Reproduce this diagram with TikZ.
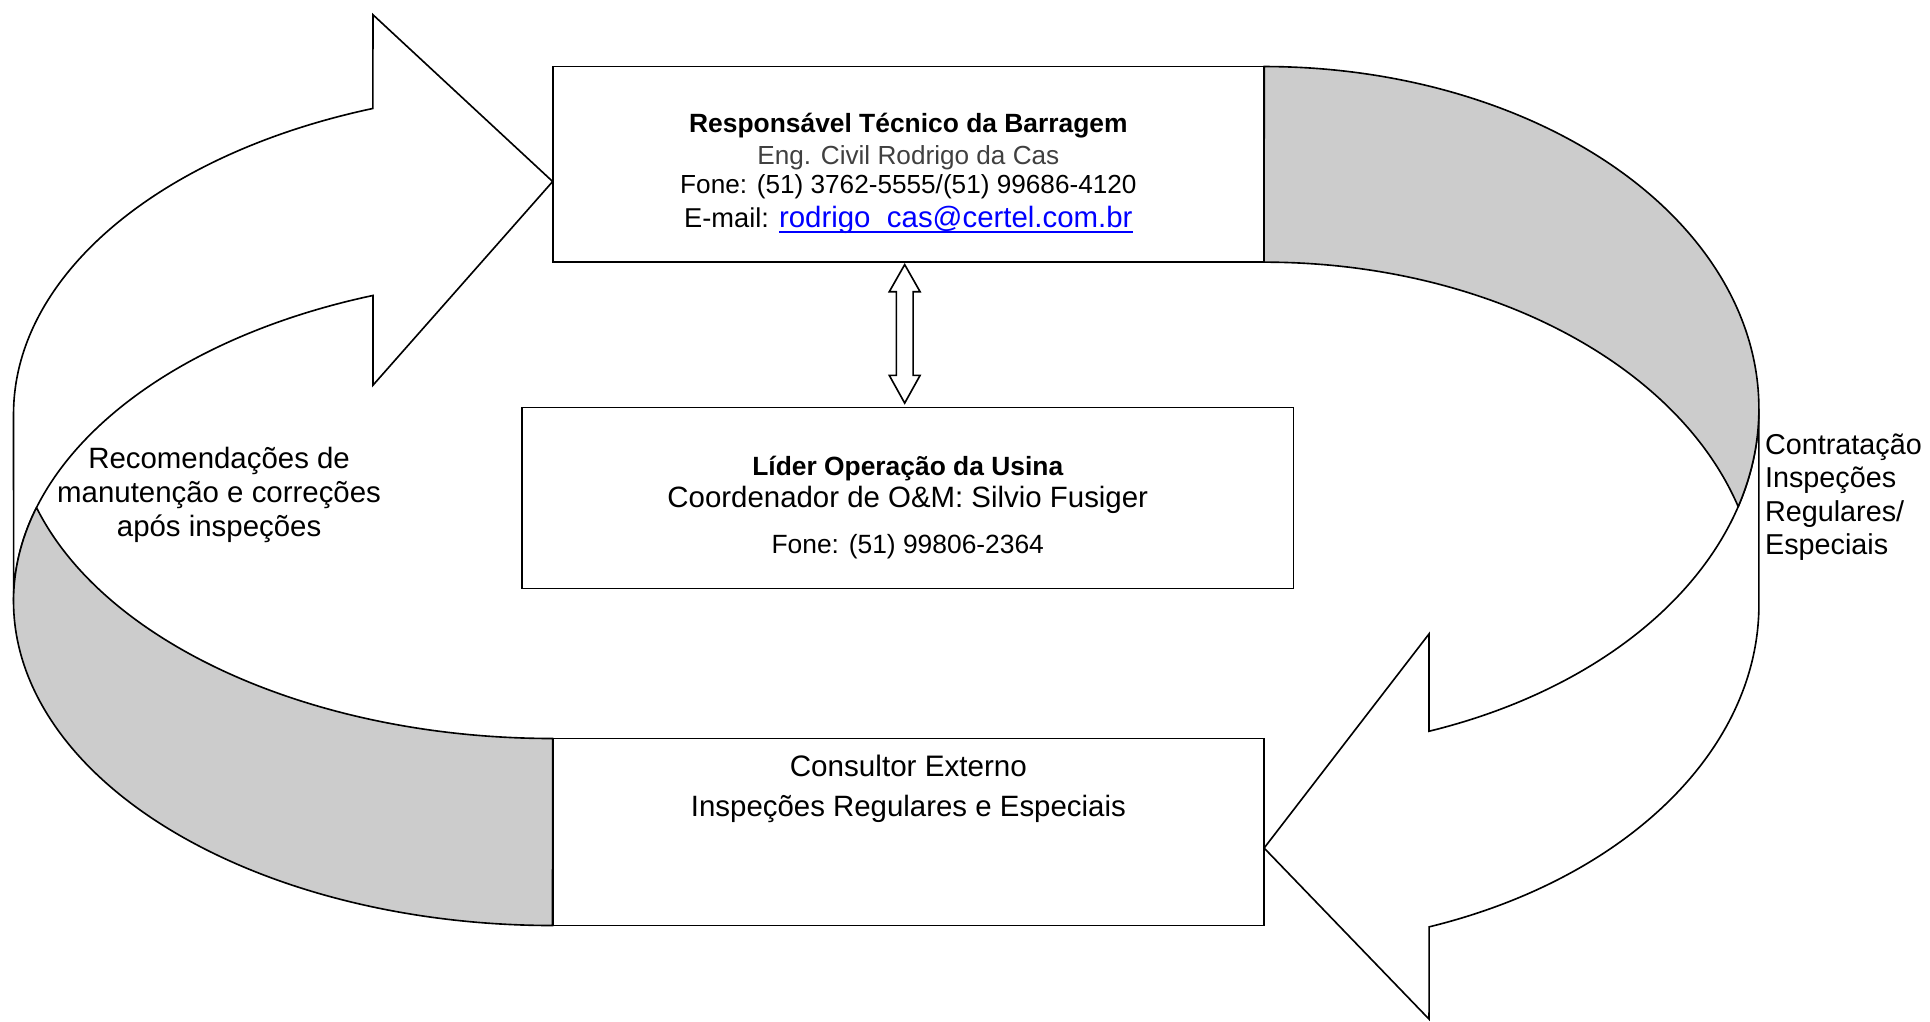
\documentclass[tikz,border=0pt]{standalone}
\usepackage{fontspec}
\setmainfont{Liberation Sans}
\usetikzlibrary{calc}
\definecolor{ribbongray}{RGB}{204,204,204}
\definecolor{linkblue}{RGB}{0,0,255}
\definecolor{softblack}{RGB}{64,64,64}
\newcommand\wordul[1]{\setbox0\hbox{#1}\rlap{\rule[-2.8pt]{\wd0}{0.85pt}}\box0}
\begin{document}
\begin{tikzpicture}[x=0.02cm,y=0.02cm,
  shapeline/.style={draw=black, line width=0.75pt, line join=miter},
  bodyshape/.style={shapeline, fill=white},
  ribbonshape/.style={shapeline, fill=ribbongray},
  leftell/.style={x radius=8.76cm, y radius=5.27cm},
  rightell/.style={x radius=8.04cm, y radius=5.56cm},
  box/.style={draw=black, line width=0.75pt, fill=white, inner sep=0pt, outer sep=0pt},
  txt/.style={inner sep=0pt, outer sep=0pt, anchor=base},
  ltxt/.style={inner sep=0pt, outer sep=0pt, anchor=base west},
  fa/.style={font=\fontsize{12.1}{14}\selectfont},
  fb/.style={font=\fontsize{12.2}{14}\selectfont\bfseries},
  fc/.style={font=\fontsize{13.3}{15}\selectfont},
  fd/.style={font=\fontsize{13.6}{15}\selectfont},
  blockarrow/.style={draw=black, line width=0.75pt, fill=white, line join=miter}
]
\useasboundingbox (0,0) rectangle (1568,830);

% left curved arrow (body)
\draw[bodyshape] (11,493.5) arc[leftell, start angle=180, end angle=109.47]
  -- (303,818) -- (449,682.5) -- (303,517) -- (303,589.93)
  arc[leftell, start angle=109.47, end angle=180] -- cycle;
% left ribbon
\draw[ribbonshape] (29.6,417.5) arc[leftell, start angle=163.236, end angle=270]
  -- (449,230) arc[leftell, start angle=270, end angle=196.764] -- cycle;

% right curved arrow (body)
\draw[bodyshape] (1429,339) arc[rightell, start angle=0, end angle=-70.53]
  -- (1161,2) -- (1027,141) -- (1161,315) -- (1161,235.9)
  arc[rightell, start angle=-70.53, end angle=0] -- cycle;
% right ribbon
\draw[ribbonshape] (1412.2,418.5) arc[rightell, start angle=-16.617, end angle=90]
  -- (1027,617) arc[rightell, start angle=90, end angle=16.617] -- cycle;

% boxes
\node[box, minimum width=11.56cm, minimum height=3.18cm] (rt) at (738,696.5) {};
\node[box, minimum width=12.54cm, minimum height=2.94cm] (lo) at (737.5,425.5) {};
\node[box, minimum width=11.56cm, minimum height=3.04cm] (ce) at (738,154) {};

% double block arrow between top and middle boxes
\coordinate (dt) at (735,615);
\coordinate (db) at (735,502.5);
\draw[blockarrow] (dt) -- ++(12.5,-22) -- ++(-5.7,0) -- ++(0,-68) -- ++(5.7,0) -- (db)
  -- ++(-12.5,22.5) -- ++(5.7,0) -- ++(0,68) -- ++(-5.7,0) -- cycle;

% top box text
\node[txt, fb] (rt1) at (738,722.5) {Responsável Técnico da Barragem};
\node[txt, fa, text=softblack] (rt2) at (738,696.5) {Eng. Civil Rodrigo da Cas};
\node[txt, fa] (rt3) at (738,672.5) {Fone: (51) 3762-5555/(51) 99686-4120};
\node[txt] (rt4) at (738,645.5) {\fontsize{12.6}{14}\selectfont E-mail: \textcolor{linkblue}{\fontsize{13.6}{15}\selectfont\wordul{rodrigo\_cas@certel.com.br}}};

% middle box text
\node[txt, fb] (lo1) at (737.5,444) {Líder Operação da Usina};
\node[txt, fd] (lo2) at (737.5,417.5) {Coordenador de O\&M: Silvio Fusiger};
\node[txt, font=\fontsize{12.2}{14}\selectfont] (lo3) at (737.5,380.5) {Fone: (51) 99806-2364};

% bottom box text
\node[txt, font=\fontsize{13.7}{15}\selectfont] (ce1) at (738,199.5) {Consultor Externo};
\node[txt, fd] (ce2) at (738,167) {Inspeções Regulares e Especiais};

% left label
\node[txt, fd] (rc1) at (178,449.5) {Recomendações de};
\node[txt, fd] (rc2) at (178,422) {manutenção e correções};
\node[txt, fd] (rc3) at (178,394.5) {após inspeções};

% right label
\node[ltxt, fc] (ct1) at (1434,461) {Contratação};
\node[ltxt, fc] (ct2) at (1434,433.7) {Inspeções};
\node[ltxt, fc] (ct3) at (1434,406.4) {Regulares/};
\node[ltxt, fc] (ct4) at (1434,379.1) {Especiais};
\end{tikzpicture}
\end{document}
